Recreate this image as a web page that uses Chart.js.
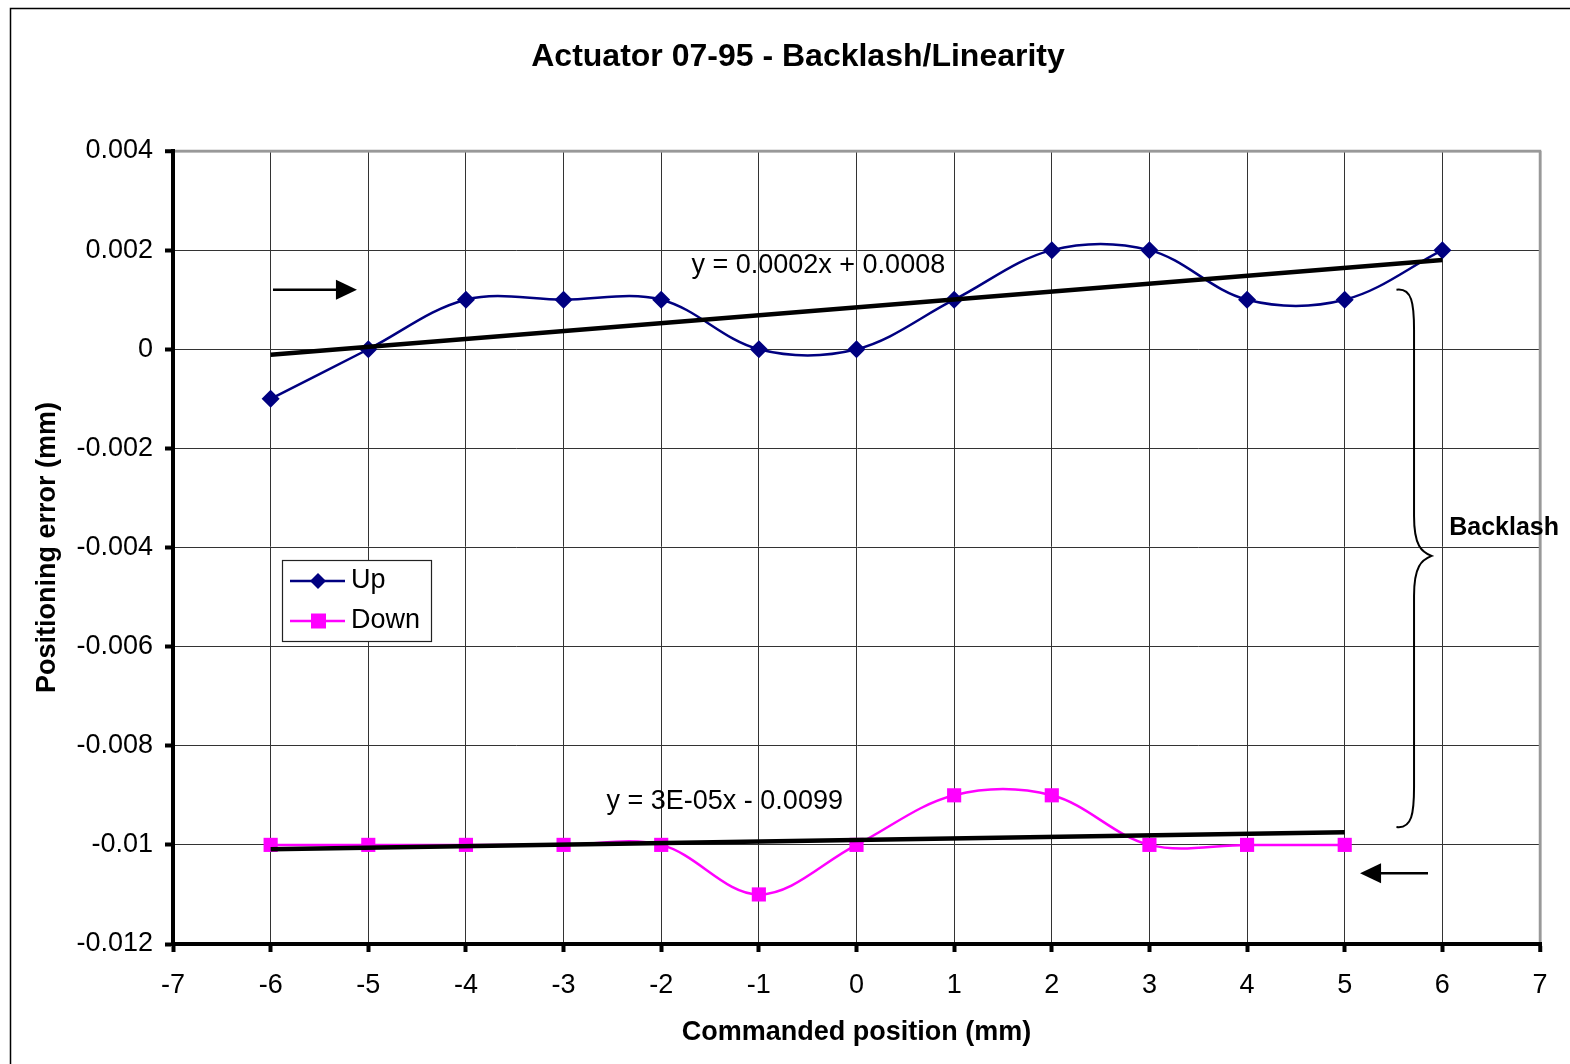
<!DOCTYPE html>
<html>
<head>
<meta charset="utf-8">
<title>Actuator 07-95 - Backlash/Linearity</title>
<script src="https://cdn.jsdelivr.net/npm/chart.js@4/dist/chart.umd.min.js"></script>
<style>
  html, body { margin: 0; padding: 0; background: #fff; }
  #wrap { width: 1570px; height: 1064px; position: relative; }
</style>
</head>
<body>
<div id="wrap"><canvas id="chart" width="1570" height="1064"></canvas></div>
<script>
// Commanded positions (mm) and measured positioning errors (mm)
const upPositions   = [-6, -5, -4, -3, -2, -1, 0, 1, 2, 3, 4, 5, 6];
const upErrors      = [-0.001, 0, 0.001, 0.001, 0.001, 0, 0, 0.001, 0.002, 0.002, 0.001, 0.001, 0.002];
const downPositions = [-6, -5, -4, -3, -2, -1, 0, 1, 2, 3, 4, 5];
const downErrors    = [-0.01, -0.01, -0.01, -0.01, -0.01, -0.011, -0.01, -0.009, -0.009, -0.01, -0.01, -0.01];

const xTicks = [-7, -6, -5, -4, -3, -2, -1, 0, 1, 2, 3, 4, 5, 6, 7];
const yTicks = [0.004, 0.002, 0, -0.002, -0.004, -0.006, -0.008, -0.01, -0.012];

const chartTitle = 'Actuator 07-95 - Backlash/Linearity';
const FONT = "'Liberation Sans', Arial, Helvetica, sans-serif";

// Least-squares linear fit
function linearFit(xs, ys) {
  const n = xs.length;
  const mx = xs.reduce((a, b) => a + b, 0) / n;
  const my = ys.reduce((a, b) => a + b, 0) / n;
  let sxy = 0, sxx = 0;
  for (let i = 0; i < n; i++) { sxy += (xs[i] - mx) * (ys[i] - my); sxx += (xs[i] - mx) ** 2; }
  const slope = sxy / sxx;
  return { slope, intercept: my - slope * mx };
}

// Spreadsheet-style coefficient text: 4 decimals, scientific when that rounds to zero
function coef(v) {
  const r = Math.round(Math.abs(v) * 1e4) / 1e4;
  if (r !== 0) return String(r);
  const e = Math.floor(Math.log10(Math.abs(v)));
  const m = Math.round(Math.abs(v) / Math.pow(10, e));
  const es = (e < 0 ? '-' : '+') + String(Math.abs(e)).padStart(2, '0');
  return m + 'E' + es;
}
function equation(fit) {
  const sign = fit.intercept < 0 ? ' - ' : ' + ';
  return 'y = ' + (fit.slope < 0 ? '-' : '') + coef(fit.slope) + 'x' + sign + coef(fit.intercept);
}

const upFit = linearFit(upPositions, upErrors);
const downFit = linearFit(downPositions, downErrors);

const fitLine = (fit, x0, x1) => [x0, x1].map(x => ({ x, y: fit.slope * x + fit.intercept }));

const upData = upPositions.map((x, i) => ({ x, y: upErrors[i] }));
const downData = downPositions.map((x, i) => ({ x, y: downErrors[i] }));

// Extra drawing: frame, title, legend, trend equations, direction arrows, backlash brace
const decorations = {
  id: 'decorations',
  beforeDraw(chart) {
    const ctx = chart.ctx;
    ctx.save();
    ctx.fillStyle = '#fff';
    ctx.fillRect(0, 0, chart.width, chart.height);
    ctx.strokeStyle = '#000';
    ctx.lineWidth = 1.5;
    ctx.beginPath();
    ctx.moveTo(10.5, chart.height);
    ctx.lineTo(10.5, 8.5);
    ctx.lineTo(chart.width, 8.5);
    ctx.stroke();

    ctx.fillStyle = '#000';
    ctx.font = 'bold 32px ' + FONT;
    ctx.textAlign = 'center';
    ctx.textBaseline = 'middle';
    ctx.fillText(chartTitle, 798, 57);
    ctx.restore();
  },
  afterDraw(chart) {
    const { ctx, scales: { x, y }, chartArea: a } = chart;
    const px = v => x.getPixelForValue(v);
    const py = v => y.getPixelForValue(v);
    ctx.save();

    // plot frame on top / right
    ctx.strokeStyle = '#999';
    ctx.lineWidth = 2.5;
    ctx.beginPath();
    ctx.moveTo(a.left, a.top);
    ctx.lineTo(a.right, a.top);
    ctx.lineTo(a.right, a.bottom);
    ctx.stroke();

    // redraw the main axes so they sit above the frame
    ctx.strokeStyle = '#000';
    ctx.lineWidth = 4;
    ctx.beginPath();
    ctx.moveTo(a.left, a.top - 2);
    ctx.lineTo(a.left, a.bottom);
    ctx.lineTo(a.right + 2, a.bottom);
    ctx.stroke();

    // trend line equations
    ctx.fillStyle = '#000';
    ctx.font = '27px ' + FONT;
    ctx.textBaseline = 'middle';
    ctx.textAlign = 'left';
    ctx.fillText(equation(upFit), px(-1.69), py(0.00168));
    ctx.fillText(equation(downFit), px(-2.56), py(-0.00912));

    // "Backlash" label
    ctx.font = 'bold 25px ' + FONT;
    ctx.fillText('Backlash', px(6.07), py(-0.00361));

    // direction arrows
    function arrow(x0, x1, yv) {
      const X0 = px(x0), X1 = px(x1), Y = py(yv);
      const dir = Math.sign(X1 - X0);
      ctx.strokeStyle = '#000';
      ctx.lineWidth = 2.5;
      ctx.beginPath();
      ctx.moveTo(X0, Y);
      ctx.lineTo(X1 - dir * 18, Y);
      ctx.stroke();
      ctx.fillStyle = '#000';
      ctx.beginPath();
      ctx.moveTo(X1, Y);
      ctx.lineTo(X1 - dir * 21, Y - 10);
      ctx.lineTo(X1 - dir * 21, Y + 10);
      ctx.closePath();
      ctx.fill();
    }
    arrow(-5.976, -5.116, 0.0012);
    arrow(5.853, 5.157, -0.01057);

    // curly brace spanning the two curves
    const bx0 = px(5.53), bs = px(5.71), bt = px(5.89);
    const top = py(0.0012), mid = py(-0.00417), bot = py(-0.00964);
    ctx.strokeStyle = '#000';
    ctx.lineWidth = 2;
    ctx.beginPath();
    ctx.moveTo(bx0, top);
    ctx.bezierCurveTo(bs - 2, top - 2, bs, top + 14, bs, top + 40);
    ctx.lineTo(bs, mid - 40);
    ctx.bezierCurveTo(bs, mid - 10, bt - 10, mid - 4, bt, mid);
    ctx.bezierCurveTo(bt - 10, mid + 4, bs, mid + 10, bs, mid + 40);
    ctx.lineTo(bs, bot - 40);
    ctx.bezierCurveTo(bs, bot - 14, bs - 2, bot + 2, bx0, bot);
    ctx.stroke();

    // legend
    const lx = 282, ly = 560, lw = 149, lh = 81;
    ctx.fillStyle = '#fff';
    ctx.fillRect(lx, ly, lw, lh);
    ctx.strokeStyle = '#222';
    ctx.lineWidth = 1.2;
    ctx.strokeRect(lx + 0.5, ly + 0.5, lw, lh);
    const items = [chart.data.datasets[0], chart.data.datasets[1]];
    items.forEach((ds, i) => {
      const yy = ly + 21 + i * 40;
      ctx.strokeStyle = ds.borderColor;
      ctx.lineWidth = 2.5;
      ctx.beginPath();
      ctx.moveTo(lx + 8, yy);
      ctx.lineTo(lx + 63, yy);
      ctx.stroke();
      ctx.fillStyle = ds.backgroundColor;
      ctx.beginPath();
      if (ds.pointStyle === 'rectRot') {
        ctx.moveTo(lx + 36, yy - 8);
        ctx.lineTo(lx + 44, yy);
        ctx.lineTo(lx + 36, yy + 8);
        ctx.lineTo(lx + 28, yy);
        ctx.closePath();
      } else {
        ctx.rect(lx + 29, yy - 7.5, 15, 15);
      }
      ctx.fill();
      ctx.fillStyle = '#000';
      ctx.font = '27px ' + FONT;
      ctx.textBaseline = 'middle';
      ctx.fillText(ds.label, lx + 69, yy);
    });
    ctx.restore();
  }
};

const fmtY = v => String(parseFloat(Number(v).toFixed(3)));

new Chart(document.getElementById('chart'), {
  type: 'line',
  data: {
    datasets: [
      {
        label: 'Up', data: upData,
        borderColor: '#000080', backgroundColor: '#000080',
        borderWidth: 2.5, pointStyle: 'rectRot', pointRadius: 9, pointBorderWidth: 0,
        tension: 0.35, order: 3
      },
      {
        label: 'Down', data: downData,
        borderColor: '#FF00FF', backgroundColor: '#FF00FF',
        borderWidth: 2.5, pointStyle: 'rect', pointRadius: 10, pointBorderWidth: 0,
        tension: 0.35, order: 2
      },
      {
        label: 'Linear (Up)', data: fitLine(upFit, -6, 6),
        borderColor: '#000', borderWidth: 4.5, pointRadius: 0, tension: 0, order: 1
      },
      {
        label: 'Linear (Down)', data: fitLine(downFit, -6, 5),
        borderColor: '#000', borderWidth: 4.5, pointRadius: 0, tension: 0, order: 0
      }
    ]
  },
  options: {
    responsive: false,
    animation: false,
    devicePixelRatio: 1,
    layout: { padding: { left: 10, right: 30, top: 151, bottom: 8 } },
    plugins: {
      legend: { display: false },
      tooltip: { enabled: false },
      title: { display: false }
    },
    scales: {
      x: {
        type: 'linear', min: -7, max: 7,
        afterBuildTicks: s => { s.ticks = xTicks.map(v => ({ value: v })); },
        afterFit: s => { s.height = 112; },
        ticks: { color: '#000', font: { family: FONT, size: 27 }, padding: 17, callback: v => String(v) },
        grid: {
          color: c => (c.tick && c.tick.value === 7) ? '#999' : '#333',
          lineWidth: c => (c.tick && c.tick.value === 7) ? 2.5 : 1,
          tickColor: '#000', tickWidth: 4, tickLength: 8
        },
        border: { color: '#000', width: 4 },
        title: {
          display: true, text: 'Commanded position (mm)', color: '#000',
          font: { family: FONT, size: 27, weight: 'bold' }, padding: { top: 0, bottom: 7 }
        }
      },
      y: {
        type: 'linear', min: -0.012, max: 0.004,
        afterBuildTicks: s => { s.ticks = yTicks.map(v => ({ value: v })); },
        afterFit: s => { s.width = 163; },
        ticks: { color: '#000', font: { family: FONT, size: 27 }, padding: 12, callback: fmtY },
        grid: {
          color: c => (c.tick && Math.abs(c.tick.value - 0.004) < 1e-9) ? '#999' : '#333',
          lineWidth: c => (c.tick && Math.abs(c.tick.value - 0.004) < 1e-9) ? 2.5 : 1,
          tickColor: '#000', tickWidth: 4, tickLength: 8
        },
        border: { color: '#000', width: 4 },
        title: {
          display: true, text: 'Positioning error (mm)', color: '#000',
          font: { family: FONT, size: 27, weight: 'bold' }, padding: { top: 21, bottom: 0 }
        }
      }
    }
  },
  plugins: [decorations]
});
</script>
</body>
</html>
